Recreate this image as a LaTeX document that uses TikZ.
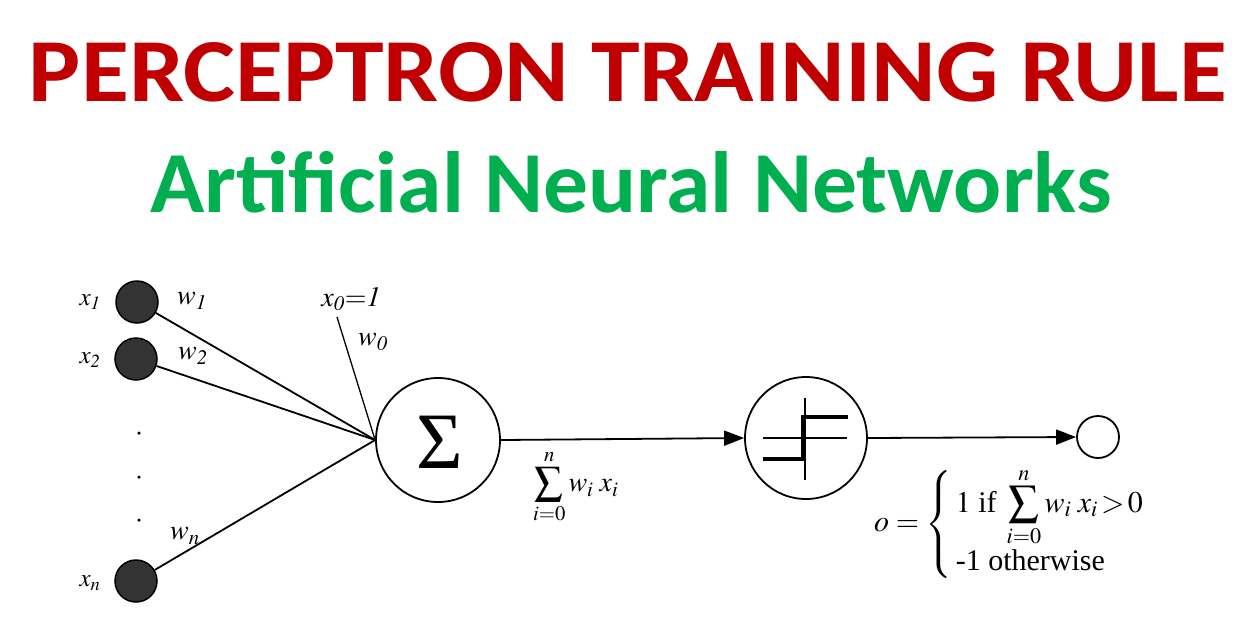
\documentclass[tikz,border=0pt]{standalone}
\usepackage{mathptmx}
\usepackage{fontspec}
\setmainfont{Liberation Serif}
\newfontfamily\titlefont{Carlito}
\usetikzlibrary{arrows.meta}
\definecolor{titlered}{HTML}{C00000}
\definecolor{titlegreen}{HTML}{00B050}
\tikzset{
  inp/.style={circle, draw=black, line width=1.5pt, fill=black!80, minimum size=42pt, inner sep=0pt},
  unit/.style={circle, draw=black, line width=1.8pt, minimum size=#1, inner sep=0pt},
  conn/.style={line width=1.8pt, black},
  arr/.style={conn, -{Triangle[length=20pt,width=15pt]}},
  lab/.style={font=\fontsize{28}{32}\selectfont, inner sep=0pt},
  biglab/.style={font=\fontsize{30}{34}\selectfont, inner sep=0pt},
  smalllab/.style={font=\fontsize{25}{30}\selectfont, inner sep=0pt},
  dotn/.style={circle, fill=black, minimum size=3.5pt, inner sep=0pt},
}
\begin{document}
\begin{tikzpicture}[x=1pt,y=-1pt]
\useasboundingbox[fill=white] (0,0) rectangle (1259,641);
% titles
\node[font=\titlefont\bfseries\fontsize{90}{100}\selectfont, text=titlered, inner sep=0pt, xscale=1.09] (t1) at (628,72) {PERCEPTRON TRAINING RULE};
\node[font=\titlefont\bfseries\fontsize{87}{100}\selectfont, text=titlegreen, inner sep=0pt, xscale=1.03] (t2) at (631,182) {Artificial Neural Networks};
% inputs
\node[inp] (x1) at (137,302) {};
\node[inp] (x2) at (136,359) {};
\node[inp] (xn) at (136,581) {};
\node[smalllab] (lx1) at (90,302) {$x_{\mathit{1}}$};
\node[smalllab] (lx2) at (90,360) {$x_{\mathit{2}}$};
\node[smalllab] (lxn) at (90,583) {$x_n$};
\node[dotn] (d1) at (139,433) {};
\node[dotn] (d2) at (139,477) {};
\node[dotn] (d3) at (139,520) {};
% summation unit
\node[unit=124pt] (sum) at (438,440) {};
\node[font=\fontsize{80}{88}\selectfont, inner sep=0pt] (sig) at (440,442) {Σ};
\coordinate (x0end) at (337,317);
\draw[conn] (x1) -- (sum.west);
\draw[conn] (x2) -- (sum.west);
\draw[conn] (xn) -- (sum.west);
\draw[conn, line width=1.3pt] (x0end) -- (sum.west);
\node[lab] (w1) at (192,301) {$w_{\mathit{1}}$};
\node[lab] (w2) at (193,356) {$w_{\mathit{2}}$};
\node[lab] (wn) at (185,536) {$w_n$};
\node[lab] (w0) at (373,342) {$w_{\mathit{0}}$};
\node[lab] (x0) at (351,299) {$x_{\mathit{0}}{=}\mathit{1}$};
% step unit
\node[unit=122pt] (step) at (806,438) {};
\draw[arr] (sum.east) -- (step.west);
\begin{scope}[shift={(step.center)}]
  \draw[line width=1.3pt] (-43,0) -- (41,0);
  \draw[line width=1.3pt] (-1,-40) -- (-1,42);
  \draw[line width=4pt] (-43,21) -- (-3,21) -- (-3,-21) -- (42,-21);
\end{scope}
\node[lab, anchor=west] (sumlab) at (533,487) {$\displaystyle\sum_{i=0}^{n} w_i\;x_i$};
% output
\node[unit=42pt] (out) at (1098,437) {};
\draw[arr] (step.east) -- (out.west);
\node[biglab, anchor=west] (olab) at (874,524) {$o = \left\{\begin{array}{@{\,}l@{}} 1\ \mbox{if}\;\displaystyle\sum_{i=0}^{n} w_i\;x_i\,{>}\,0\\[2pt] \mbox{-1 otherwise}\end{array}\right.$};
\end{tikzpicture}
\end{document}
